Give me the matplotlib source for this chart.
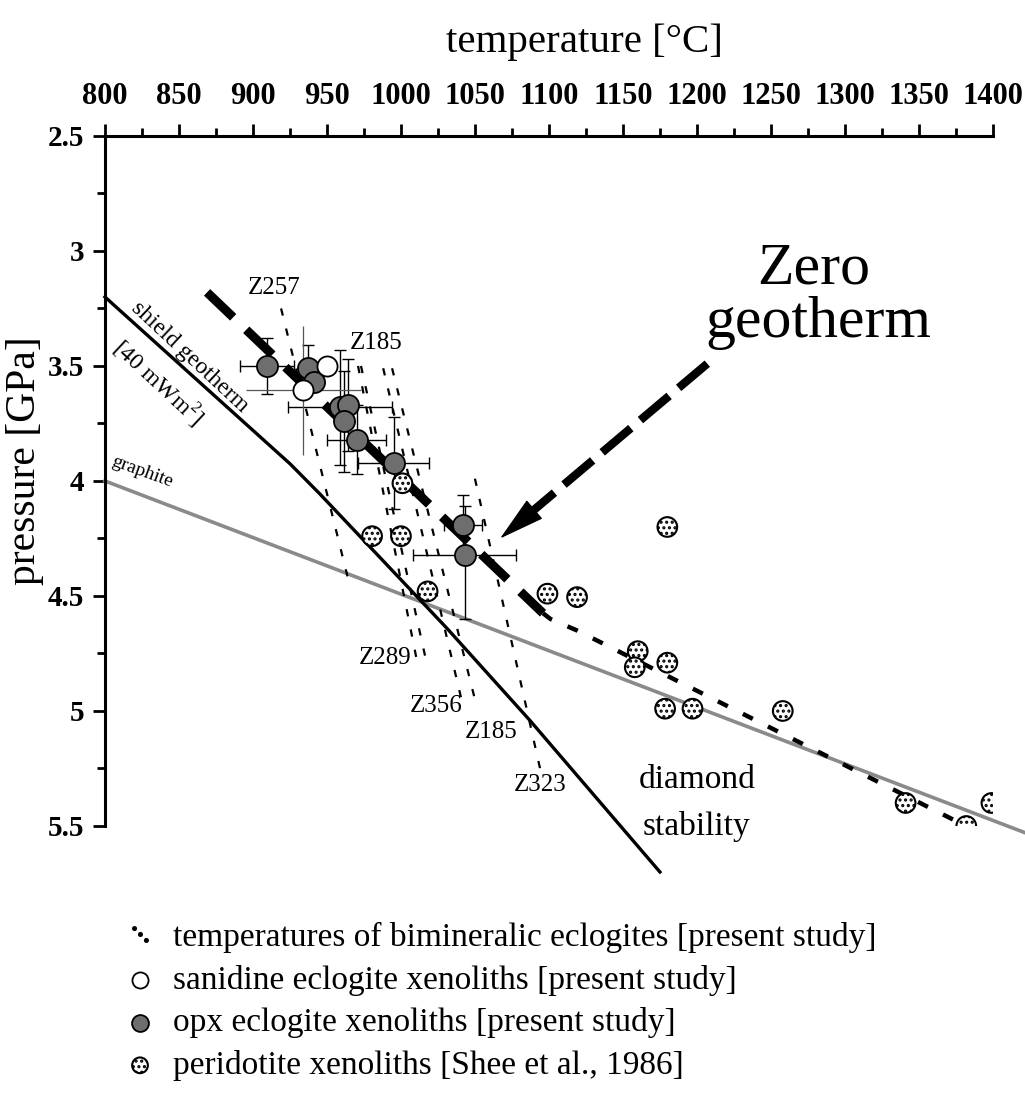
import numpy as np
import matplotlib.pyplot as plt
from matplotlib.lines import Line2D

plt.rcParams['font.family'] = ['Liberation Serif', 'DejaVu Serif']
plt.rcParams['mathtext.fontset'] = 'custom'
plt.rcParams['mathtext.rm'] = 'Liberation Serif'
plt.rcParams['hatch.linewidth'] = 1.5

# ===== data: T [°C], P [GPa] =====
shield_T = [800, 925, 945, 1031, 1087, 1175]
shield_P = [3.20, 3.925, 4.055, 4.64, 5.04, 5.70]

graphite_T = [800, 1422]
graphite_P = [4.00, 5.53]

zero_T = [869, 1096]
zero_P = [3.18, 4.575]
zero_ext_T = [1096, 1101, 1119, 1391]
zero_ext_P = [4.575, 4.60, 4.65, 5.53]

arrow_from = (1207, 3.49)
arrow_to = (1067, 4.25)

# temperature lines of bimineralic eclogites (upper / lower end)
bimin_T_top = [919, 971, 973, 988, 994, 1050]
bimin_P_top = [3.25, 3.50, 3.50, 3.51, 3.51, 3.99]
bimin_T_bot = [966, 1012, 1018, 1042, 1050, 1094]
bimin_P_bot = [4.47, 4.82, 4.81, 4.98, 4.95, 5.25]

sample_names = ['Z257', 'Z185', 'Z289', 'Z356', 'Z185', 'Z323']
sample_T = [914, 983, 989, 1024, 1061, 1094]
sample_P = [3.16, 3.40, 4.77, 4.98, 5.09, 5.32]

# opx eclogites
opx_T = [909.5, 937, 941, 959, 964, 961.5, 970, 995, 1042, 1043]
opx_P = [3.50, 3.51, 3.57, 3.68, 3.67, 3.74, 3.82, 3.92, 4.19, 4.32]
opx_Terr = [18, 0, 0, 35, 0, 0, 20, 24, 13, 35]
opx_Perr_lo = [0.12, 0.10, 0, 0.25, 0.20, 0.22, 0.15, 0.20, 0.13, 0.21]
opx_Perr_hi = [0.12, 0.10, 0, 0.25, 0.20, 0.22, 0.15, 0.20, 0.13, 0.28]

# sanidine eclogites
san_T = [950, 934]
san_P = [3.50, 3.605]
san_Terr = [0, 39]
san_Perr = [0, 0.28]

# peridotites (Shee et al., 1986)
per_T = [1001, 980.5, 1000, 1018, 1099, 1119, 1180, 1160, 1158, 1180,
         1178.5, 1197, 1258, 1341, 1399, 1382]
per_P = [4.01, 4.24, 4.24, 4.48, 4.49, 4.505, 4.20, 4.74, 4.81, 4.79,
         4.99, 4.99, 5.00, 5.40, 5.40, 5.50]

legend_labels = ['temperatures of bimineralic eclogites [present study]',
                 'sanidine eclogite xenoliths [present study]',
                 'opx eclogite xenoliths [present study]',
                 'peridotite xenoliths [Shee et al., 1986]']

# ===== figure =====
fig = plt.figure(figsize=(10.25, 11), dpi=100)
ax = fig.add_axes([0.1024, 0.2491, 0.8663, 0.6273])

ax.plot(graphite_T, graphite_P, color='#8a8a8a', lw=2.6, clip_on=False, zorder=2)
ax.plot(shield_T, shield_P, color='k', lw=2.4, clip_on=False, zorder=2)

for i in range(len(bimin_T_top)):
    ax.plot([bimin_T_top[i], bimin_T_bot[i]], [bimin_P_top[i], bimin_P_bot[i]],
            color='k', lw=1.6, ls=(0, (3.3, 6)), zorder=3)
for name, t, p in zip(sample_names, sample_T, sample_P):
    ax.text(t, p, name, fontsize=18, ha='center', va='center')

ax.plot(zero_T, zero_P, color='k', lw=6.5, ls=(0, (4, 2)), zorder=4)
ax.plot(zero_ext_T, zero_ext_P, color='k', lw=3.2, ls=(0, (2.5, 3.8)), zorder=4)

# dashed arrow to the zero geotherm
frac = 0.11
head_base = (arrow_to[0] + frac * (arrow_from[0] - arrow_to[0]),
             arrow_to[1] + frac * (arrow_from[1] - arrow_to[1]))
ax.plot([arrow_from[0], head_base[0]], [arrow_from[1], head_base[1]],
        color='k', lw=6, ls=(0, (4.5, 1.5)), zorder=4)
ax.annotate('', xy=arrow_to, xytext=head_base,
            arrowprops=dict(arrowstyle='-|>,head_length=1.5,head_width=0.4',
                            color='k', lw=1, mutation_scale=20,
                            shrinkA=0, shrinkB=0), zorder=4)

# points
ax.errorbar(opx_T, opx_P, xerr=opx_Terr, yerr=[opx_Perr_lo, opx_Perr_hi],
            fmt='none', ecolor='k', elinewidth=1, capsize=4, capthick=1, zorder=5)
ax.errorbar(san_T, san_P, xerr=san_Terr, yerr=san_Perr, fmt='none',
            ecolor='#555555', elinewidth=0.9, capsize=0, zorder=5)
per = ax.scatter(per_T, per_P, s=200, facecolor='white', edgecolor='k',
                 linewidth=1.5, hatch='...', zorder=6)
opx = ax.scatter(opx_T, opx_P, s=230, facecolor='#6e6e6e', edgecolor='k',
                 linewidth=1.3, zorder=7)
san = ax.scatter(san_T, san_P, s=210, facecolor='white', edgecolor='k',
                 linewidth=1.3, zorder=8)

# annotations
ax.text(1279, 3.14, 'Zero', fontsize=43, ha='center', va='baseline')
ax.text(1282, 3.375, 'geotherm', fontsize=43, ha='center', va='baseline')
ax.text(1200, 5.336, 'diamond', fontsize=24, ha='center', va='baseline')
ax.text(1200, 5.54, 'stability', fontsize=24, ha='center', va='baseline')
ax.text(857, 3.46, 'shield geotherm', fontsize=17, rotation=-43,
        rotation_mode='anchor', ha='center', va='center')
ax.text(836, 3.57, '[40 mWm$^{2}$]', fontsize=17, rotation=-43,
        rotation_mode='anchor', ha='center', va='center')
ax.text(825, 3.96, 'graphite', fontsize=14, rotation=-20,
        rotation_mode='anchor', ha='center', va='center')

# axes
ax.set_xlim(800, 1400)
ax.set_ylim(5.5, 2.5)
ax.xaxis.tick_top()
ax.xaxis.set_label_position('top')
ax.set_xticks(np.arange(800, 1401, 50))
ax.set_xticks(np.arange(800, 1401, 25), minor=True)
yt = np.arange(2.5, 5.51, 0.5)
ax.set_yticks(yt)
ax.set_yticklabels([f'{v:g}' for v in yt])
ax.set_yticks(np.arange(2.5, 5.51, 0.25), minor=True)
ax.tick_params(which='major', length=9, width=2, direction='out', labelsize=22)
ax.tick_params(which='minor', length=6, width=2, direction='out')
ax.tick_params(axis='x', pad=9)
ax.tick_params(axis='y', pad=6, labelsize=21)
plt.setp(ax.get_xticklabels() + ax.get_yticklabels(), fontweight='bold')
for s in ['right', 'bottom']:
    ax.spines[s].set_visible(False)
for s in ['top', 'left']:
    ax.spines[s].set_linewidth(2.2)
ax.set_xlabel('temperature [°C]', fontsize=29.5)
ax.xaxis.set_label_coords(0.54, 1.121)
ax.set_ylabel('pressure [GPa]', fontsize=30)
ax.yaxis.set_label_coords(-0.069, 0.529)

h1 = Line2D([], [], ls='none', marker=r'$\ddots$', ms=14, color='k')
ax.legend([h1, san, opx, per], legend_labels, loc='upper left',
          bbox_to_anchor=(120 / 1025, 1 - 922 / 1100), bbox_transform=fig.transFigure,
          frameon=False, fontsize=24, handlelength=1.2, handletextpad=0.4,
          labelspacing=0.35, borderpad=0, borderaxespad=0, markerscale=0.8)

fig.savefig('out.png', dpi=100)
